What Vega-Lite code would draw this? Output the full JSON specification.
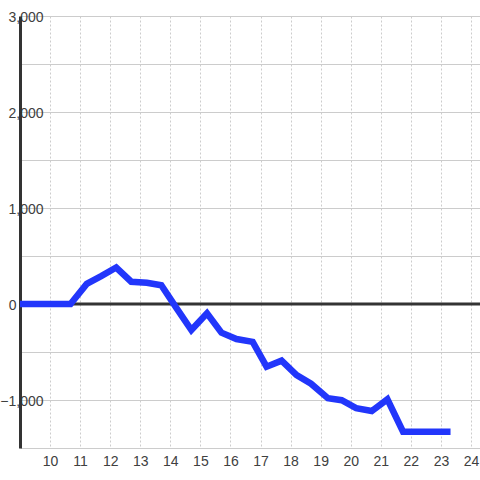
{
  "$schema": "https://vega.github.io/schema/vega-lite/v6.json",
  "width": 460,
  "height": 432,
  "autosize": {"type": "none"},
  "padding": {"left": 20, "top": 16, "right": 0, "bottom": 32},
  "background": "#ffffff",
  "config": {
    "view": {"stroke": null},
    "font": "Liberation Sans",
    "axis": {"labelFont": "Liberation Sans", "labelFontSize": 14, "labelColor": "#404040", "ticks": false, "title": null, "gridColor": "#cccccc", "gridWidth": 1}
  },
  "datasets": {
    "series": [
      {"x": 9, "y": 0},
      {"x": 10.68, "y": 0},
      {"x": 11.22, "y": 210},
      {"x": 11.7, "y": 290},
      {"x": 12.2, "y": 380},
      {"x": 12.7, "y": 232},
      {"x": 13.22, "y": 222},
      {"x": 13.7, "y": 195},
      {"x": 14.2, "y": -40},
      {"x": 14.7, "y": -271},
      {"x": 15.22, "y": -97},
      {"x": 15.7, "y": -299},
      {"x": 16.2, "y": -365},
      {"x": 16.74, "y": -395},
      {"x": 17.2, "y": -653},
      {"x": 17.7, "y": -590},
      {"x": 18.2, "y": -740},
      {"x": 18.68, "y": -830},
      {"x": 19.24, "y": -982},
      {"x": 19.7, "y": -1002},
      {"x": 20.18, "y": -1085},
      {"x": 20.7, "y": -1115},
      {"x": 21.22, "y": -993},
      {"x": 21.74, "y": -1330},
      {"x": 23.32, "y": -1330}
    ],
    "zero": [{"y": 0}]
  },
  "encoding": {
    "x": {
      "field": "x", "type": "quantitative",
      "scale": {"domain": [9, 24.3], "nice": false, "zero": false},
      "axis": {
        "values": [10, 11, 12, 13, 14, 15, 16, 17, 18, 19, 20, 21, 22, 23, 24],
        "labelFontSize": 14,
        "labelPadding": 6,
        "labelFlush": false,
        "domain": false,
        "grid": true,
        "gridDash": [2, 2],
        "zindex": 0
      }
    },
    "y": {
      "field": "y", "type": "quantitative",
      "scale": {"domain": [-1500, 3000], "nice": false, "zero": false},
      "axis": {
        "values": [-1500, -1000, -500, 0, 500, 1000, 1500, 2000, 2500, 3000],
        "labelExpr": "datum.value % 1000 == 0 ? format(datum.value, ',') : ''",
        "labelFontSize": 14,
        "labelPadding": {"condition": {"test": "datum.value == 0", "value": 4}, "value": -23},
        "labelAlign": "right",
        "labelBaseline": "middle",
        "labelOffset": 1,
        "domain": true,
        "domainColor": "#333333",
        "domainWidth": 3,
        "grid": true,
        "gridDash": [],
        "zindex": 0
      }
    }
  },
  "layer": [
    {
      "data": {"name": "zero"},
      "mark": {"type": "rule", "color": "#333333", "strokeWidth": 3},
      "encoding": {"x": null, "y": {"field": "y", "type": "quantitative"}}
    },
    {
      "data": {"name": "series"},
      "mark": {"type": "line", "color": "#2236fb", "strokeWidth": 6.5, "strokeJoin": "miter"},
      "encoding": {}
    }
  ]
}
